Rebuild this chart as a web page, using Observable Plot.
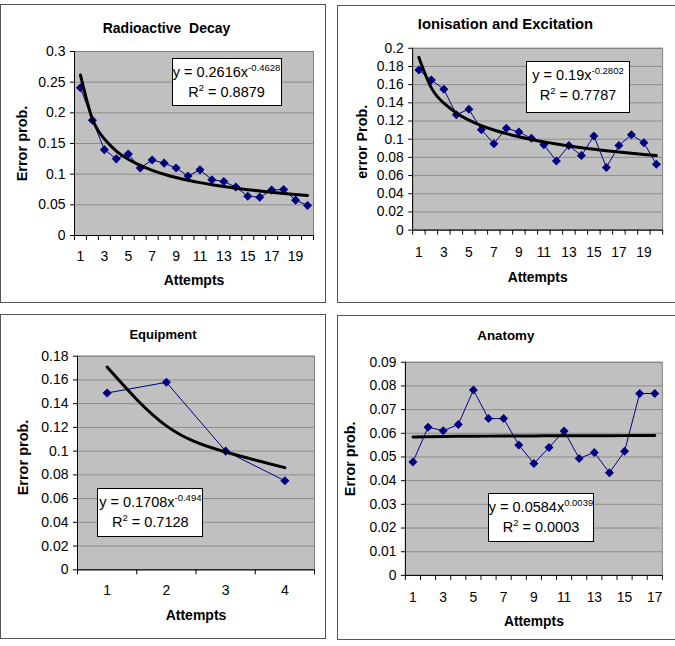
<!DOCTYPE html>
<html>
<head>
<meta charset="utf-8">
<script src="https://cdn.jsdelivr.net/npm/d3@7"></script>
<script src="https://cdn.jsdelivr.net/npm/@observablehq/plot@0.6"></script>
<style>
  html, body { margin: 0; padding: 0; background: #fff; }
  #root { position: relative; width: 675px; height: 646px; overflow: hidden; font-family: "Liberation Sans", Arial, sans-serif; color: #000; }
  .panel { position: absolute; box-sizing: border-box; border: 1.5px solid #555; background: #fff; }
  .chart { position: absolute; }
  .chart svg text { white-space: pre; }
  .eq { position: absolute; box-sizing: border-box; background: #fff; border: 1px solid #000; font-size: 14.5px; line-height: 20px; text-align: center; padding-top: 3px; white-space: nowrap; }
  .eq sup { font-size: 9.5px; vertical-align: 6px; line-height: 0; }
</style>
</head>
<body>
<div id="root"></div>
<script>
// ---------- data ----------
const decayAttempts = [1,2,3,4,5,6,7,8,9,10,11,12,13,14,15,16,17,18,19,20];
const decayError = [0.241,0.188,0.140,0.125,0.133,0.110,0.123,0.118,0.110,0.097,0.107,0.091,0.088,0.079,0.064,0.0625,0.074,0.075,0.0576,0.049];

const ionAttempts = [1,2,3,4,5,6,7,8,9,10,11,12,13,14,15,16,17,18,19,20];
const ionError = [0.176,0.165,0.155,0.127,0.133,0.1105,0.095,0.112,0.108,0.101,0.094,0.076,0.093,0.082,0.1036,0.069,0.093,0.105,0.096,0.0725];

const equipAttempts = [1,2,3,4];
const equipError = [0.149,0.158,0.100,0.075];

const anatomyAttempts = [1,2,3,4,5,6,7,8,9,10,11,12,13,14,15,16,17];
const anatomyError = [0.0479,0.0626,0.0611,0.0637,0.0783,0.0662,0.0662,0.0551,0.0472,0.054,0.061,0.0494,0.0519,0.0433,0.0524,0.0768,0.0768];

// power trendlines y = a * x^b (as printed on the charts)
const trendCoef = [0.2616, 0.19, 0.1708, 0.0584];
const trendExp = [-0.4628, -0.2802, -0.494, 0.0039];
const rSquared = ["0.8879", "0.7787", "0.7128", "0.0003"];

const titles = ["Radioactive  Decay", "Ionisation and Excitation", "Equipment", "Anatomy"];
const yTitles = ["Error prob.", "error Prob.", "Error prob.", "Error prob."];
const xTitle = "Attempts";

const yTicksDecay = [0, 0.05, 0.1, 0.15, 0.2, 0.25, 0.3];
const yTicksIon = [0, 0.02, 0.04, 0.06, 0.08, 0.1, 0.12, 0.14, 0.16, 0.18, 0.2];
const yTicksEquip = [0, 0.02, 0.04, 0.06, 0.08, 0.1, 0.12, 0.14, 0.16, 0.18];
const yTicksAnatomy = [0, 0.01, 0.02, 0.03, 0.04, 0.05, 0.06, 0.07, 0.08, 0.09];

const xLabelsDecay = [1, 3, 5, 7, 9, 11, 13, 15, 17, 19];
const xLabelsIon = [1, 3, 5, 7, 9, 11, 13, 15, 17, 19];
const xLabelsEquip = [1, 2, 3, 4];
const xLabelsAnatomy = [1, 3, 5, 7, 9, 11, 13, 15, 17];

// ---------- layout (page pixels) ----------
const panels = [
  { attempts: decayAttempts, errors: decayError, yTicks: yTicksDecay, xLabels: xLabelsDecay,
    box: {x: 0, y: 4, w: 326, h: 299}, plot: {l: 74, r: 313, t: 51, b: 235},
    titleX: 166, titleY: 28, titleSize: 14, yTitleX: 22, yTitleY: 143, xLabelOff: 21, xTitleY: 280,
    eq: {x: 171.5, y: 58.3, w: 110, h: 48} },
  { attempts: ionAttempts, errors: ionError, yTicks: yTicksIon, xLabels: xLabelsIon,
    box: {x: 337, y: 5, w: 342, h: 298}, plot: {l: 413, r: 666, t: 48.3, b: 232.3},
    titleX: 507, titleY: 24, titleSize: 15, yTitleX: 362, yTitleY: 143, xLabelOff: 22.5, xTitleY: 280,
    eq: {x: 526, y: 61, w: 104, h: 52} },
  { attempts: equipAttempts, errors: equipError, yTicks: yTicksEquip, xLabels: xLabelsEquip,
    box: {x: 0, y: 314, w: 326, h: 325}, plot: {l: 77, r: 314, t: 355.7, b: 569.3},
    titleX: 162.5, titleY: 334, titleSize: 13, yTitleX: 23, yTitleY: 457, xLabelOff: 20.7, xTitleY: 615,
    eq: {x: 97.3, y: 488.3, w: 106, h: 48.5} },
  { attempts: anatomyAttempts, errors: anatomyError, yTicks: yTicksAnatomy, xLabels: xLabelsAnatomy,
    box: {x: 337, y: 315, w: 342, h: 325}, plot: {l: 405.7, r: 665.7, t: 362.3, b: 578},
    titleX: 507.3, titleY: 335.3, titleSize: 13.5, yTitleX: 350, yTitleY: 460, xLabelOff: 22, xTitleY: 624.3,
    eq: {x: 487.7, y: 492.7, w: 106.6, h: 49} }
];

const root = document.getElementById("root");
const FONT = "'Liberation Sans', Arial, sans-serif";

panels.forEach((p, k) => {
  const {box, plot} = p;
  const frameDiv = document.createElement("div");
  frameDiv.className = "panel";
  Object.assign(frameDiv.style, {left: box.x + "px", top: box.y + "px", width: box.w + "px", height: box.h + "px"});
  root.appendChild(frameDiv);

  const n = p.attempts.length;
  const x0 = p.attempts[0] - 0.5, x1 = p.attempts[n - 1] + 0.5;
  const data = p.attempts.map((x, i) => ({x, y: p.errors[i]}));
  const trend = p.attempts.map(x => ({x, y: trendCoef[k] * Math.pow(x, trendExp[k])}));
  const boundaries = [x0, ...p.attempts.map(x => x + 0.5)];
  const cx = (plot.l + plot.r) / 2, cy = (plot.t + plot.b) / 2;

  const chart = Plot.plot({
    width: box.w, height: box.h,
    marginLeft: plot.l - box.x, marginRight: box.x + box.w - plot.r,
    marginTop: plot.t - box.y, marginBottom: box.y + box.h - plot.b,
    style: {fontFamily: FONT, background: "transparent", color: "#000", overflow: "visible"},
    x: {domain: [x0, x1]},
    y: {domain: [0, p.yTicks[p.yTicks.length - 1]]},
    marks: [
      Plot.frame({fill: "#c0c0c0"}),
      Plot.gridY({ticks: p.yTicks, stroke: "#8c8c8c", strokeOpacity: 1}),
      Plot.frame({stroke: "#808080"}),
      Plot.ruleX([x0], {stroke: "#000"}),
      Plot.ruleY([0], {stroke: "#000"}),
      Plot.axisY({ticks: p.yTicks, tickSize: 4, tickPadding: 5, tickFormat: d => String(d), fontSize: 14, label: null, strokeOpacity: 1}),
      Plot.axisX({ticks: boundaries, tickSize: 5, tickFormat: () => "", label: null, strokeOpacity: 1}),
      Plot.axisX({ticks: p.xLabels, tickSize: 0, tickPadding: p.xLabelOff - 5, tickFormat: d => String(d), fontSize: 14, label: null}),
      Plot.line(data, {x: "x", y: "y", stroke: "#000080", strokeWidth: 1}),
      Plot.dot(data, {x: "x", y: "y", symbol: "diamond2", r: 4.1, fill: "#000080", stroke: "none"}),
      Plot.line(trend, {x: "x", y: "y", stroke: "#000", strokeWidth: 3, curve: "natural"}),
      Plot.text([titles[k]], {frameAnchor: "top", dx: p.titleX - cx, dy: p.titleY - plot.t, lineAnchor: "middle",
        fontWeight: "bold", fontSize: p.titleSize, fill: "#000"}),
      Plot.text([yTitles[k]], {frameAnchor: "left", dx: p.yTitleX - plot.l, dy: p.yTitleY - cy, rotate: -90,
        textAnchor: "middle", lineAnchor: "middle", fontWeight: "bold", fontSize: 14.5, fill: "#000"}),
      Plot.text([xTitle], {frameAnchor: "bottom", dy: p.xTitleY - plot.b, lineAnchor: "middle",
        fontWeight: "bold", fontSize: 14, fill: "#000"})
    ]
  });
  const wrap = document.createElement("div");
  wrap.className = "chart";
  Object.assign(wrap.style, {left: box.x + "px", top: box.y + "px"});
  wrap.appendChild(chart);
  root.appendChild(wrap);

  const eq = document.createElement("div");
  eq.className = "eq";
  Object.assign(eq.style, {left: p.eq.x + "px", top: p.eq.y + "px", width: p.eq.w + "px", height: p.eq.h + "px"});
  eq.innerHTML = `y = ${trendCoef[k]}x<sup>${trendExp[k]}</sup><br>R<sup>2</sup> = ${rSquared[k]}`;
  root.appendChild(eq);
});
</script>
</body>
</html>
